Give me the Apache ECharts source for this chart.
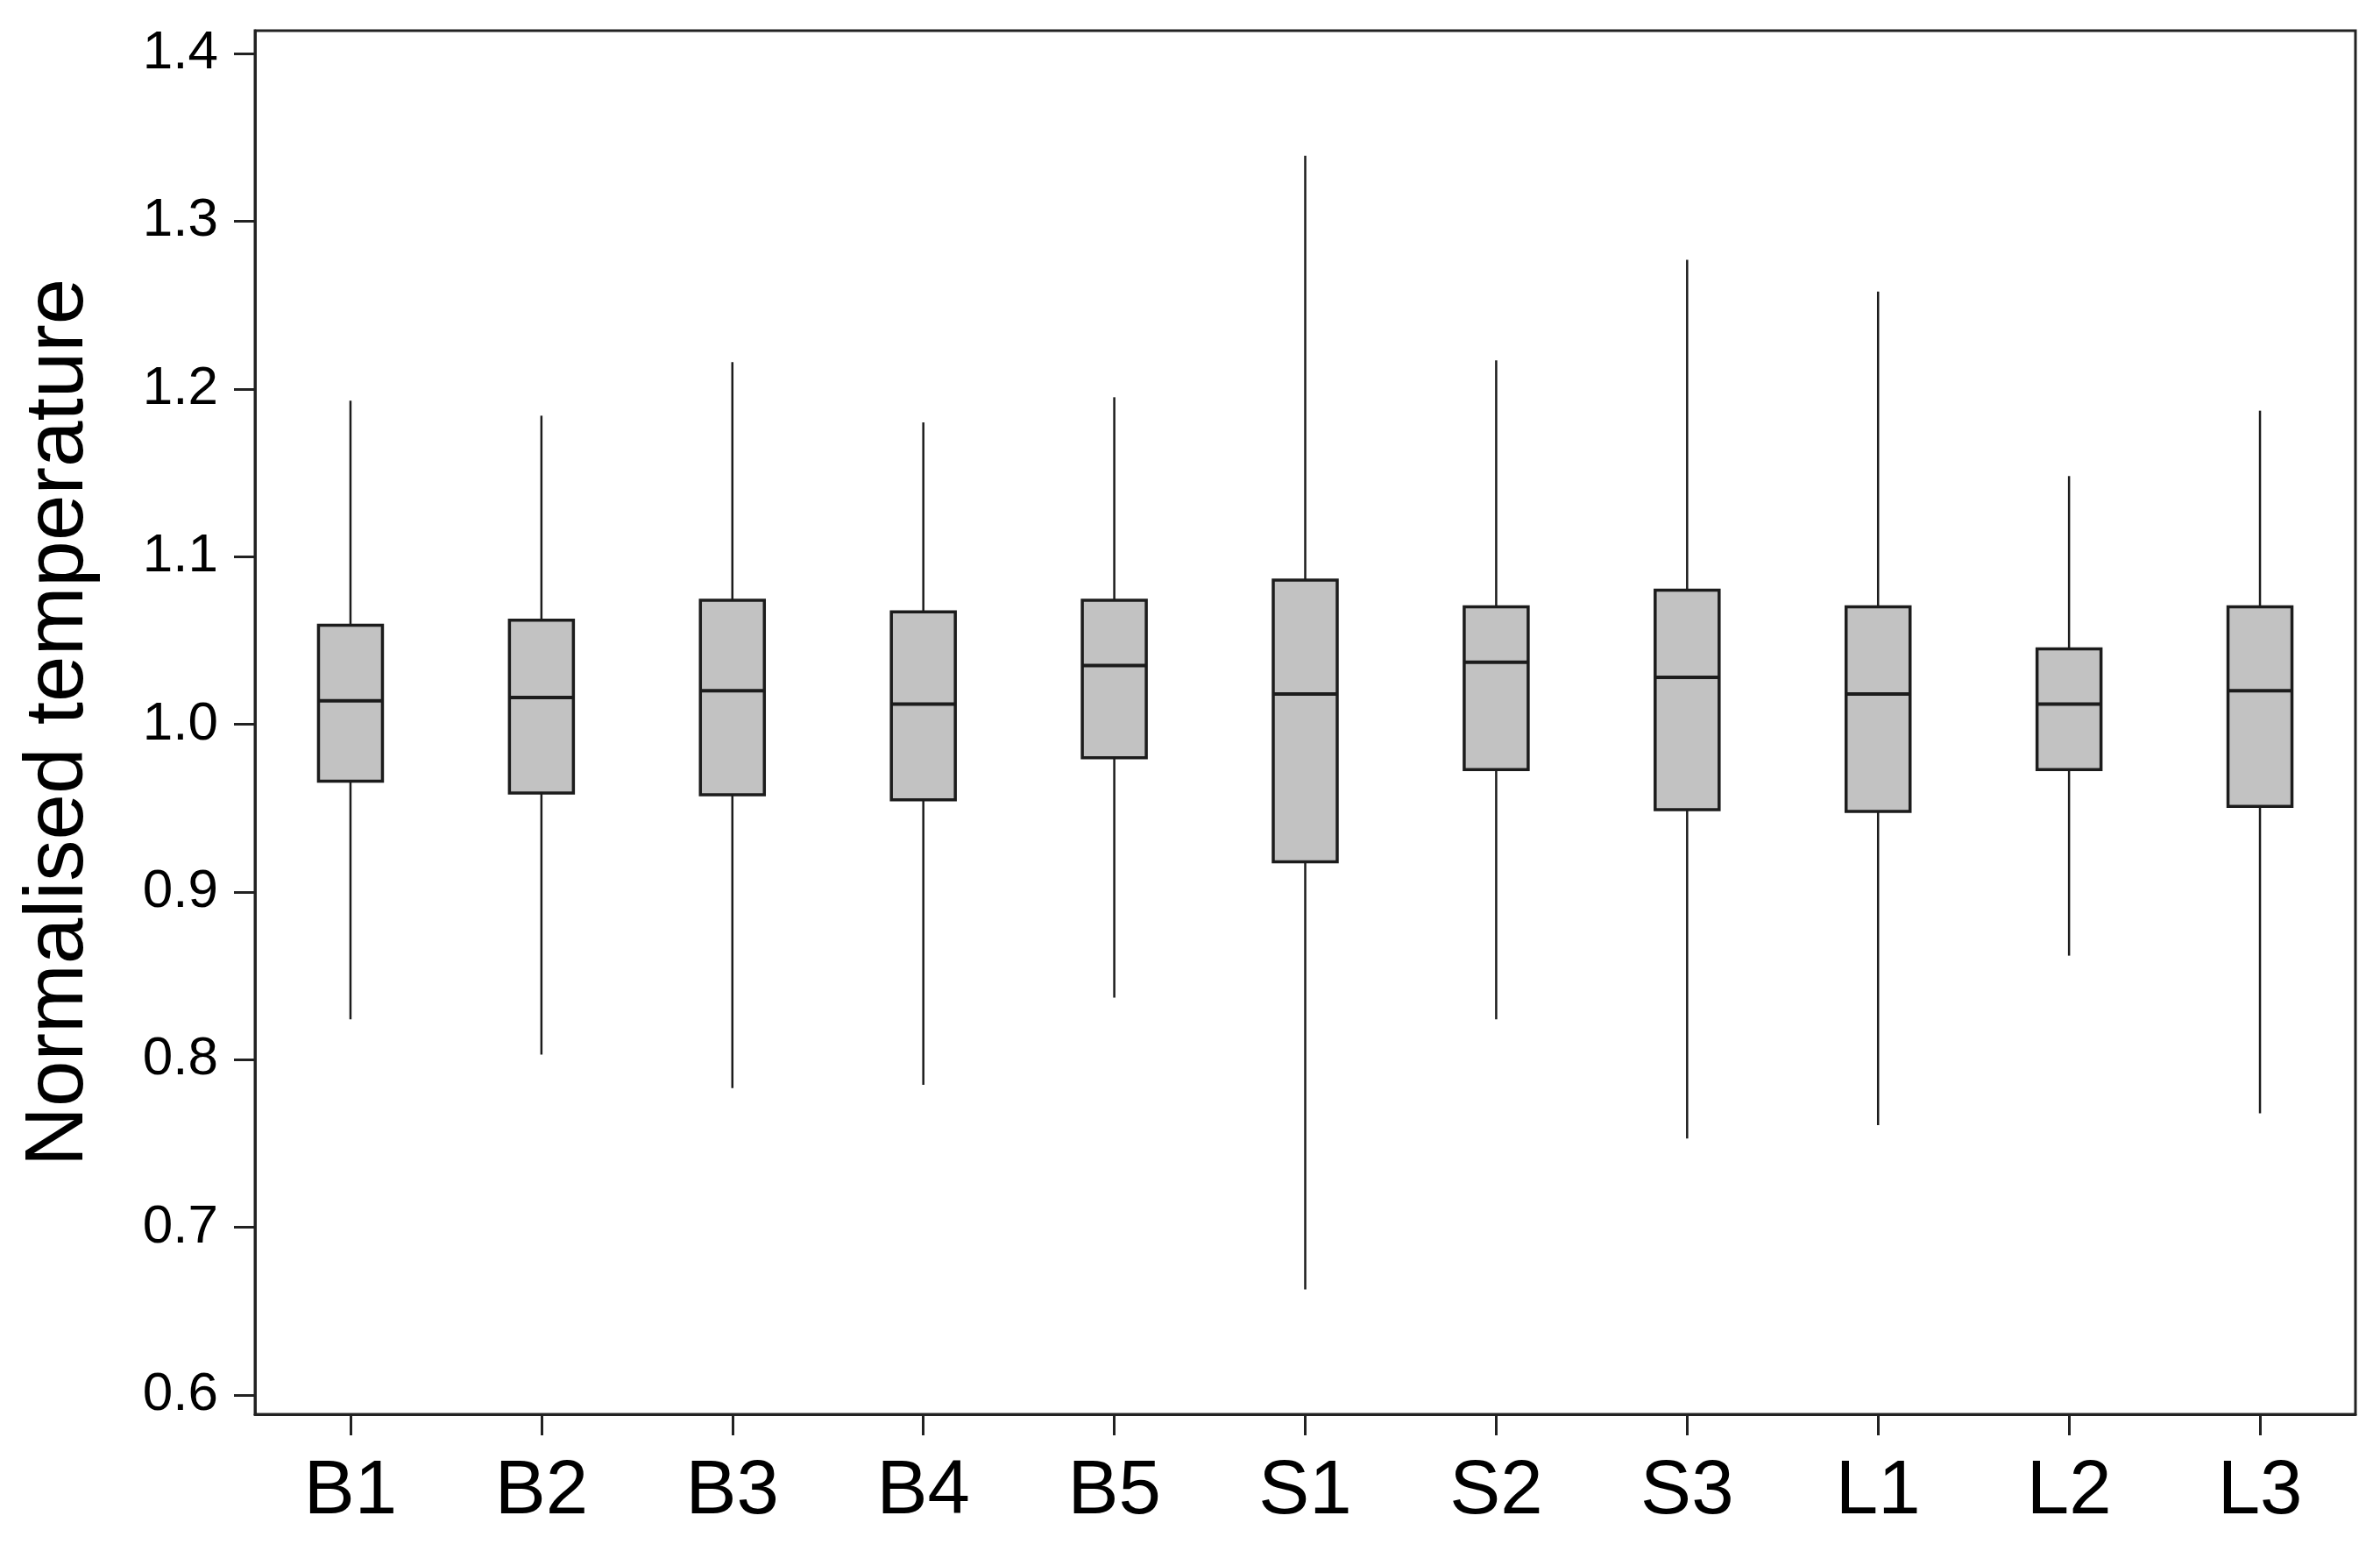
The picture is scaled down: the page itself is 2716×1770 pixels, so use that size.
<!DOCTYPE html>
<html><head><meta charset="utf-8">
<script src="https://cdn.jsdelivr.net/npm/echarts@6/dist/echarts.min.js"></script>
<style>html,body{margin:0;padding:0;background:#fff}#c{width:2716px;height:1770px}</style>
</head><body><div id="c"></div>
<script>
const categories = ['B1','B2','B3','B4','B5','S1','S2','S3','L1','L2','L3'];
const whiskerLow  = [0.824, 0.803, 0.783, 0.785, 0.837, 0.663, 0.824, 0.753, 0.761, 0.862, 0.768];
const q1          = [0.966, 0.959, 0.958, 0.955, 0.980, 0.918, 0.973, 0.949, 0.948, 0.973, 0.951];
const median      = [1.014, 1.016, 1.020, 1.012, 1.035, 1.018, 1.037, 1.028, 1.018, 1.012, 1.020];
const q3          = [1.059, 1.062, 1.074, 1.067, 1.074, 1.086, 1.070, 1.080, 1.070, 1.045, 1.070];
const whiskerHigh = [1.193, 1.184, 1.216, 1.180, 1.195, 1.339, 1.217, 1.277, 1.258, 1.148, 1.187];
const yTicks = [0.6, 0.7, 0.8, 0.9, 1.0, 1.1, 1.2, 1.3, 1.4];

const data = categories.map((c, i) => [i, whiskerLow[i], q1[i], median[i], q3[i], whiskerHigh[i]]);

function renderItem(params, api) {
  const x = api.value(0);
  const pLow = api.coord([x, api.value(1)]);
  const pQ1 = api.coord([x, api.value(2)]);
  const pMed = api.coord([x, api.value(3)]);
  const pQ3 = api.coord([x, api.value(4)]);
  const pHigh = api.coord([x, api.value(5)]);
  const halfW = api.size([1, 0])[0] * 0.335 / 2;
  const cx = pMed[0];
  const stroke = '#1c1c1c';
  return {
    type: 'group',
    children: [
      {type: 'line', shape: {x1: cx, y1: pHigh[1], x2: cx, y2: pQ3[1]}, style: {stroke: stroke, lineWidth: 2.5}},
      {type: 'line', shape: {x1: cx, y1: pQ1[1], x2: cx, y2: pLow[1]}, style: {stroke: stroke, lineWidth: 2.5}},
      {type: 'rect', shape: {x: cx - halfW, y: pQ3[1], width: 2 * halfW, height: pQ1[1] - pQ3[1]},
        style: {fill: '#c2c2c2', stroke: stroke, lineWidth: 3.5}},
      {type: 'line', shape: {x1: cx - halfW, y1: pMed[1], x2: cx + halfW, y2: pMed[1]}, style: {stroke: stroke, lineWidth: 4}}
    ]
  };
}

const chart = echarts.init(document.getElementById('c'), null, {renderer: 'canvas'});
chart.setOption({
  backgroundColor: '#ffffff',
  animation: false,
  grid: {left: 291, right: 28, top: 35, bottom: 156, show: true, borderColor: '#222', borderWidth: 3, backgroundColor: 'transparent'},
  xAxis: {
    type: 'category',
    data: categories,
    boundaryGap: true,
    axisLine: {show: true, lineStyle: {color: '#222', width: 3}},
    axisTick: {show: true, alignWithLabel: true, length: 24, lineStyle: {color: '#222', width: 3}},
    axisLabel: {margin: 46, fontFamily: 'Liberation Sans', fontSize: 87, color: '#000'},
    splitLine: {show: false}
  },
  yAxis: {
    type: 'value',
    min: 0.5885,
    max: 1.4136,
    name: 'Normalised temperature',
    nameLocation: 'middle',
    nameRotate: 90,
    nameGap: 176,
    nameTextStyle: {fontFamily: 'Liberation Sans', fontSize: 94.5, color: '#000'},
    axisLine: {show: true, lineStyle: {color: '#222', width: 3}},
    axisTick: {show: true, length: 24, customValues: yTicks, lineStyle: {color: '#222', width: 3}},
    axisLabel: {margin: 42, customValues: yTicks, fontFamily: 'Liberation Sans', fontSize: 62, color: '#000',
      formatter: v => v.toFixed(1)},
    splitLine: {show: false}
  },
  series: [{
    type: 'custom',
    renderItem: renderItem,
    data: data,
    encode: {x: 0, y: [1, 2, 3, 4, 5]}
  }]
});
</script>
</body></html>
